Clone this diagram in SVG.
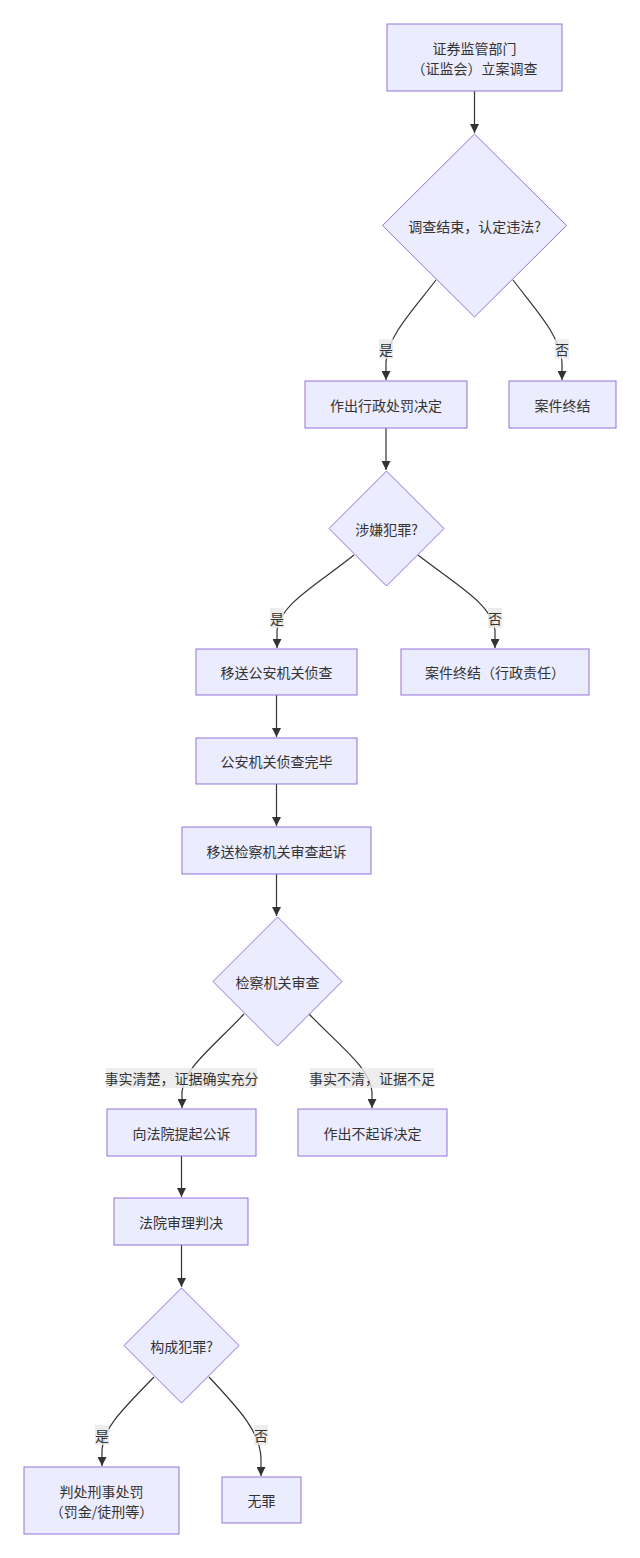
<svg xmlns="http://www.w3.org/2000/svg" width="640" height="1558" viewBox="0 0 640 1558">
<style>
.n{fill:#ECECFF;stroke:#9370DB;stroke-width:1}
.t{font-family:"Noto Sans CJK SC","Noto Sans",sans-serif;font-size:14px;fill:#333;text-anchor:middle;dominant-baseline:central}
.e{fill:none;stroke:#333;stroke-width:1.2}
.lb{fill:#E8E8E8;fill-opacity:0.8}
</style>
<defs>
<marker id="ah" viewBox="0 0 10 10" refX="10" refY="5" markerWidth="9" markerHeight="9" markerUnits="userSpaceOnUse" orient="auto">
<path d="M0,0 L10,5 L0,10 z" fill="#333"/>
</marker>
</defs>
<rect width="640" height="1558" fill="#fff"/>
<g id="edges">
<path class="e" d="M474.5,91 L474.5,133" marker-end="url(#ah)"/>
<path class="e" d="M436,280 C414,309 388,335 386,362 L386,380" marker-end="url(#ah)"/>
<path class="e" d="M513,280 C535,309 560,335 562,362 L562,380" marker-end="url(#ah)"/>
<path class="e" d="M386,428 L386,470" marker-end="url(#ah)"/>
<path class="e" d="M354,555 C318,584 280,604 277,630 L277,648" marker-end="url(#ah)"/>
<path class="e" d="M418,555 C455,584 492,604 495,630 L495,648" marker-end="url(#ah)"/>
<path class="e" d="M276.5,695 L276.5,737" marker-end="url(#ah)"/>
<path class="e" d="M276.5,784 L276.5,826" marker-end="url(#ah)"/>
<path class="e" d="M276.5,874 L276.5,916" marker-end="url(#ah)"/>
<path class="e" d="M244,1014 C212,1048 184,1068 182,1092 L182,1108" marker-end="url(#ah)"/>
<path class="e" d="M309,1014 C342,1048 370,1068 372,1092 L372,1108" marker-end="url(#ah)"/>
<path class="e" d="M181.5,1156 L181.5,1197" marker-end="url(#ah)"/>
<path class="e" d="M181.5,1245 L181.5,1287" marker-end="url(#ah)"/>
<path class="e" d="M154,1377 C122,1410 103,1428 102,1450 L102,1466" marker-end="url(#ah)"/>
<path class="e" d="M209,1377 C240,1410 260,1432 261,1458 L261,1476" marker-end="url(#ah)"/>
</g>
<g id="edge-labels">
<rect class="lb" x="379" y="339" width="14" height="20"/><text class="t" x="386" y="349">是</text>
<rect class="lb" x="555" y="339" width="14" height="20"/><text class="t" x="562" y="349">否</text>
<rect class="lb" x="270" y="608" width="14" height="20"/><text class="t" x="277" y="618">是</text>
<rect class="lb" x="488" y="608" width="14" height="20"/><text class="t" x="495" y="618">否</text>
<rect class="lb" x="106" y="1068" width="151" height="20"/><text class="t" x="181.5" y="1078">事实清楚，证据确实充分</text>
<rect class="lb" x="310" y="1068" width="124" height="20"/><text class="t" x="372" y="1078">事实不清，证据不足</text>
<rect class="lb" x="95" y="1425" width="14" height="20"/><text class="t" x="102" y="1435">是</text>
<rect class="lb" x="254" y="1425" width="14" height="20"/><text class="t" x="261" y="1435">否</text>
</g>
<g id="nA"><rect class="n" x="387" y="24" width="175" height="67"/><text class="t" x="474.5" y="47.5">证券监管部门</text><text class="t" x="474.5" y="67.5">（证监会）立案调查</text></g>
<g id="nB"><polygon class="n" points="474.5,134 566.5,225.5 474.5,317 382.5,225.5"/><text class="t" x="474.5" y="225.5">调查结束，认定违法?</text></g>
<g id="nC"><rect class="n" x="305" y="381" width="162" height="47"/><text class="t" x="386" y="404.5">作出行政处罚决定</text></g>
<g id="nD"><rect class="n" x="509" y="381" width="107" height="47"/><text class="t" x="562.5" y="404.5">案件终结</text></g>
<g id="nE"><polygon class="n" points="386.5,471 444,528.5 386.5,586 329,528.5"/><text class="t" x="386.5" y="528.5">涉嫌犯罪?</text></g>
<g id="nF"><rect class="n" x="196" y="649" width="161" height="46"/><text class="t" x="276.5" y="672">移送公安机关侦查</text></g>
<g id="nG"><rect class="n" x="401" y="649" width="188" height="46"/><text class="t" x="495" y="672">案件终结（行政责任）</text></g>
<g id="nH"><rect class="n" x="196" y="738" width="161" height="46"/><text class="t" x="276.5" y="761">公安机关侦查完毕</text></g>
<g id="nI"><rect class="n" x="182" y="827" width="189" height="47"/><text class="t" x="276.5" y="850.5">移送检察机关审查起诉</text></g>
<g id="nJ"><polygon class="n" points="277.5,917 342,981.5 277.5,1046 213,981.5"/><text class="t" x="277.5" y="981.5">检察机关审查</text></g>
<g id="nK"><rect class="n" x="107" y="1109" width="149" height="47"/><text class="t" x="181.5" y="1132.5">向法院提起公诉</text></g>
<g id="nL"><rect class="n" x="298" y="1109" width="149" height="47"/><text class="t" x="372.5" y="1132.5">作出不起诉决定</text></g>
<g id="nM"><rect class="n" x="114" y="1198" width="134" height="47"/><text class="t" x="181" y="1221.5">法院审理判决</text></g>
<g id="nN"><polygon class="n" points="181.5,1288 239,1345.5 181.5,1403 124,1345.5"/><text class="t" x="181.5" y="1345.5">构成犯罪?</text></g>
<g id="nO"><rect class="n" x="24" y="1467" width="155" height="67"/><text class="t" x="101.5" y="1490.5">判处刑事处罚</text><text class="t" x="101.5" y="1510.5">（罚金/徒刑等）</text></g>
<g id="nP"><rect class="n" x="222" y="1477" width="79" height="46"/><text class="t" x="261.5" y="1500">无罪</text></g>
</svg>
